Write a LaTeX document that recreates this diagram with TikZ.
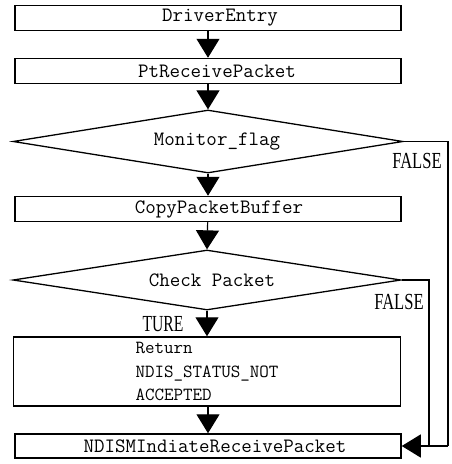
\documentclass[tikz,border=0pt]{standalone}
\usepackage{fontspec}
\setmainfont{Liberation Serif}
\usetikzlibrary{shapes.geometric,arrows.meta}
\newcommand{\sh}[1]{\hspace*{#1pt}}
\tikzset{
  codefont/.style={font=\fontsize{20.4}{22}\selectfont\ttfamily},
  procbox/.style={draw, line width=1.5pt, rectangle, inner sep=0pt, minimum width=386pt, minimum height=25pt, codefont},
  decision/.style={draw, line width=1.3pt, diamond, shape aspect=6, inner sep=0pt, codefont},
  flow/.style={line width=1.2pt, -{Triangle[length=19pt,width=23pt]}},
  plain/.style={line width=1.2pt},
  lbl/.style={inner sep=0pt, font=\fontsize{23}{23}\selectfont}
}
\begin{document}
\begin{tikzpicture}[x=1pt,y=-1pt]
\useasboundingbox (0,0) rectangle (451,464);
\node[procbox] (de) at (208,18) {\sh{24}DriverEntry};
\node[procbox] (pt) at (208,71) {\sh{18}PtReceivePacket};
\node[decision, minimum width=390pt, minimum height=63pt] (mf) at (208,141.5) {\sh{18}Monitor\_flag};
\node[procbox] (cp) at (208,209) {\sh{22}CopyPacketBuffer};
\node[decision, minimum width=388pt, minimum height=60pt] (ck) at (207,280) {\sh{10}Check Packet};
\node[procbox, minimum width=387pt, minimum height=69pt, align=left, font=\fontsize{18.5}{23.5}\selectfont\ttfamily] (rt) at (207,371.5) {Return\\NDIS\_STATUS\_NOT\\ACCEPTED};
\node[procbox, minimum height=24pt] (nd) at (208,446) {\sh{14}NDISMIndiateReceivePacket};
\coordinate (c1) at (448,446);
\coordinate (c2) at (429,446);

\draw[flow] (de) -- (pt);
\draw[flow] (pt) -- (mf.north);
\draw[flow] (mf.south) -- (cp);
\draw[flow] (cp) -- (ck.north);
\draw[flow] (ck.south) -- (ck.south |- rt.north);
\draw[flow] (rt.south -| nd.north) -- (nd.north);
\draw[plain] (mf.east) -| (c1);
\draw[flow] (c1) -- (nd.east);
\draw[plain] (ck.east) -| (c2);

\node[lbl] (f1) at (417,161) {\scalebox{0.72}[1]{FALSE}};
\node[lbl] (f2) at (399,301.5) {\scalebox{0.72}[1]{FALSE}};
\node[lbl] (tu) at (163,324.5) {\scalebox{0.68}[1]{TURE}};
\end{tikzpicture}
\end{document}
